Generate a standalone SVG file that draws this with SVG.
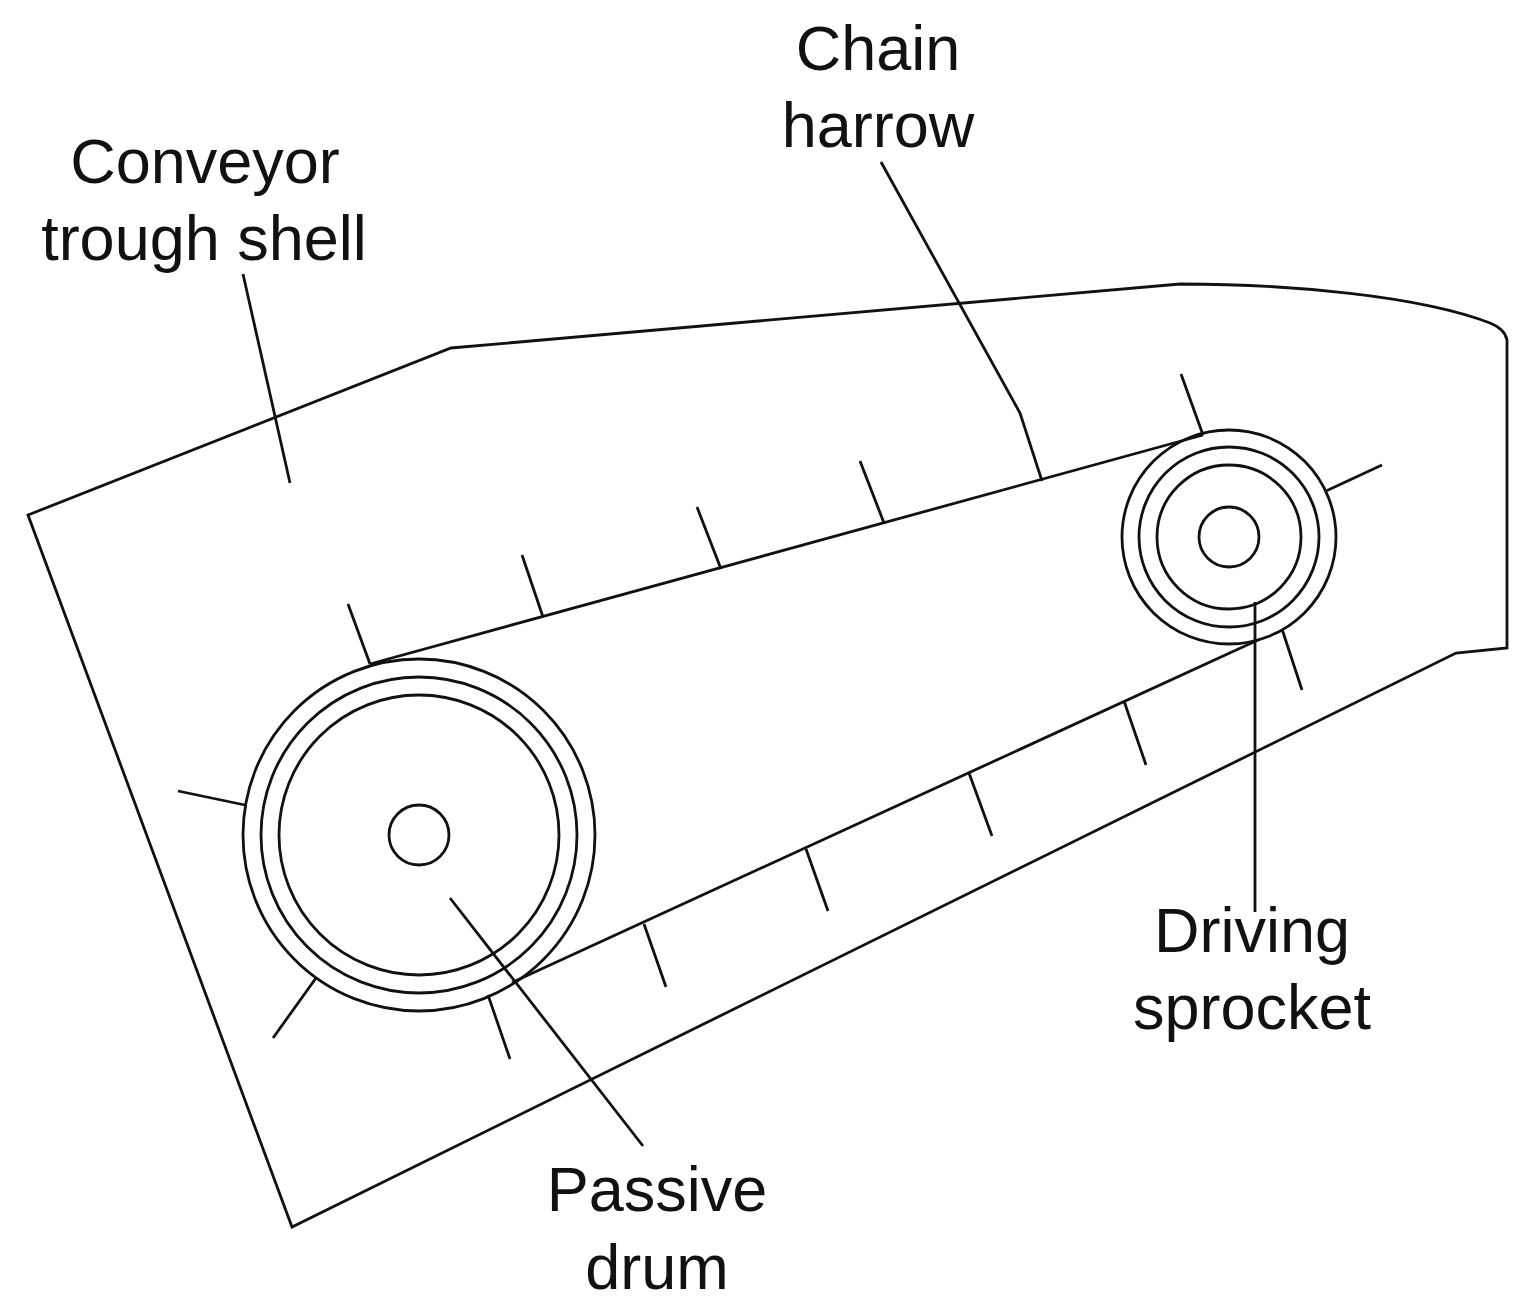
<svg xmlns="http://www.w3.org/2000/svg" width="1528" height="1313" viewBox="0 0 1528 1313">
<style>
.l{fill:none;stroke:#111;stroke-width:2.8}
text{font-family:"Liberation Sans",Arial,sans-serif;font-size:63px;fill:#111;text-anchor:middle}
</style>
<rect width="1528" height="1313" fill="#fff"/>
<g id="shell"><path class="l" d="M28 515L451 348L1180 284C1290 284 1420 296 1490 323Q1505 329 1507 340L1507 648L1456 653L292 1227Z"/></g>
<g id="passive-drum" class="l">
<circle cx="419" cy="835" r="176"/><circle cx="419" cy="835" r="158"/><circle cx="419" cy="835" r="140"/><circle cx="419" cy="835" r="30"/>
</g>
<g id="driving-sprocket" class="l">
<circle cx="1229" cy="537" r="107"/><circle cx="1229" cy="537" r="90"/><circle cx="1229" cy="537" r="72"/><circle cx="1229" cy="537" r="30"/>
</g>
<g id="connectors" class="l">
<path d="M370 664L1203 435"/><path d="M512 982.5L1258 640"/>
<path d="M348 604L370 664M522 555L543 617M697 507L721 569M860 461L884 523M1181 374L1203 435M1326 491L1382 465M1282 629L1302 690M1124 701L1146 765M969 773L992 836M806 849L828 911M644 924L666 987M488 995L510 1059M316 978L273 1038M245 805L178 791"/>
<path d="M881 162L1020 413L1042 481"/>
<path d="M243 274L290 483"/>
<path d="M1255 602L1255 912"/>
<path d="M450 898L643 1146"/>
</g>
<g id="labels">
<text x="878" y="70">Chain</text><text x="878" y="147">harrow</text>
<text x="205" y="183">Conveyor</text><text x="204" y="260">trough shell</text>
<text x="1252" y="952">Driving</text><text x="1252" y="1029">sprocket</text>
<text x="657" y="1211">Passive</text><text x="657" y="1289">drum</text>
</g>
</svg>
